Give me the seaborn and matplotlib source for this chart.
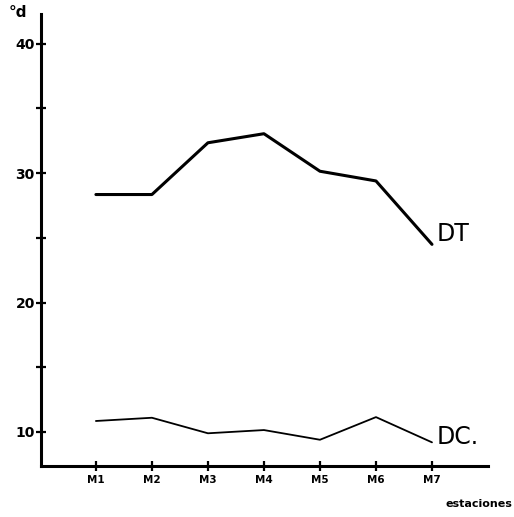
import matplotlib
matplotlib.use("Agg")
import matplotlib.pyplot as plt
from matplotlib.ticker import FixedLocator
import seaborn as sns
import pandas as pd

# Stations and hardness values (°d)
estaciones = ["M1", "M2", "M3", "M4", "M5", "M6", "M7"]
dt = [28.35, 28.35, 32.35, 33.05, 30.15, 29.4, 24.5]
dc = [10.85, 11.1, 9.9, 10.15, 9.4, 11.15, 9.2]

pos = list(range(1, len(estaciones) + 1))
df = pd.DataFrame({
    "pos": pos * 2,
    "valor": dt + dc,
    "serie": ["DT"] * len(dt) + ["DC"] * len(dc),
})

sns.set_style("white")
plt.rcParams["font.family"] = ["DejaVu Sans"]
plt.rcParams["text.color"] = "black"
plt.rcParams["xtick.color"] = "black"
plt.rcParams["ytick.color"] = "black"

fig = plt.figure(figsize=(5.14, 5.17), dpi=100)
ax = fig.add_axes([0.0798, 0.0986, 0.8696, 0.8743])

sns.lineplot(data=df, x="pos", y="valor", hue="serie", size="serie",
             palette={"DT": "black", "DC": "black"},
             sizes={"DT": 2.2, "DC": 1.3}, legend=False, ax=ax)

ax.set_xlim(0.02, 8.0)
ax.set_ylim(7.37, 42.3)

for s in ["top", "right"]:
    ax.spines[s].set_visible(False)
for s in ["left", "bottom"]:
    ax.spines[s].set_linewidth(2.2)
    ax.spines[s].set_color("black")

ax.set_xticks(pos)
ax.set_xticklabels(estaciones, fontsize=7.5, fontweight="bold")
ax.set_yticks([10, 20, 30, 40])
ax.set_yticklabels(["10", "20", "30", "40"], fontsize=10, fontweight="bold")
ax.yaxis.set_minor_locator(FixedLocator([15, 25, 35]))
ax.tick_params(axis="both", which="both", direction="inout", width=1.6,
               color="black", length=7, bottom=True, left=True,
               labelcolor="black")
ax.tick_params(axis="y", pad=1)
ax.tick_params(axis="x", pad=3)

ax.set_xlabel("")
ax.set_ylabel("")

# Series names at the end of each line
ax.text(7.08, dt[-1] + 0.25, "DT", fontsize=17, ha="left", va="baseline")
ax.text(7.08, dc[-1] - 0.1, "DC.", fontsize=17, ha="left", va="baseline")

fig.text(0.016, 0.962, "°d", fontsize=11, fontweight="bold", ha="left", va="bottom")
fig.text(0.997, 0.015, "estaciones", fontsize=8, fontweight="bold", ha="right", va="bottom")

fig.savefig("out.png", dpi=100)
